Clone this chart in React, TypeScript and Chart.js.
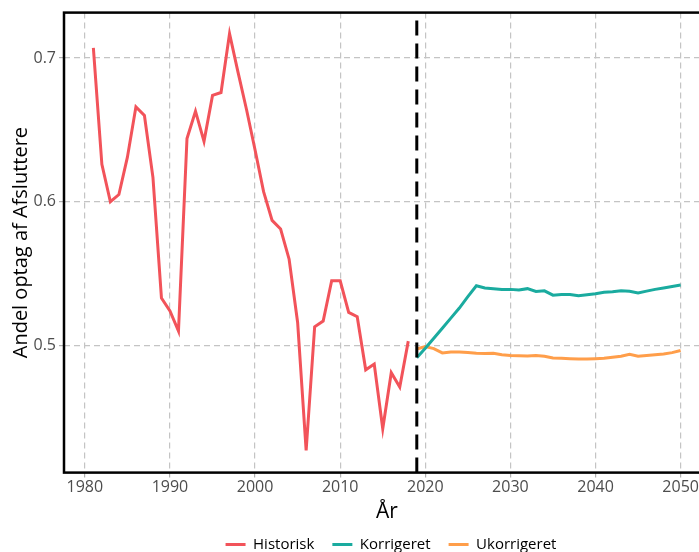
import React, { useEffect, useRef } from "react";
import { Chart, registerables } from "chart.js";

Chart.register(...registerables);

const FONT = "'Open Sans', 'Noto Sans', sans-serif";

const histYears = [
  1981, 1982, 1983, 1984, 1985, 1986, 1987, 1988, 1989, 1990,
  1991, 1992, 1993, 1994, 1995, 1996, 1997, 1998, 1999, 2000,
  2001, 2002, 2003, 2004, 2005, 2006, 2007, 2008, 2009, 2010,
  2011, 2012, 2013, 2014, 2015, 2016, 2017, 2018,
];
const historisk = [
  0.707, 0.626, 0.600, 0.605, 0.631, 0.666, 0.660, 0.617, 0.533, 0.524,
  0.510, 0.644, 0.663, 0.642, 0.674, 0.676, 0.717, 0.690, 0.664, 0.636,
  0.607, 0.587, 0.581, 0.560, 0.516, 0.427, 0.513, 0.517, 0.545, 0.545,
  0.523, 0.520, 0.483, 0.487, 0.442, 0.481, 0.471, 0.503,
];

const forecastYears = [
  2019, 2020, 2021, 2022, 2023, 2024, 2025, 2026, 2027, 2028,
  2029, 2030, 2031, 2032, 2033, 2034, 2035, 2036, 2037, 2038,
  2039, 2040, 2041, 2042, 2043, 2044, 2045, 2046, 2047, 2048,
  2049, 2050,
];
const korrigeret = [
  0.4915, 0.498, 0.505, 0.512, 0.519, 0.526, 0.534, 0.5415, 0.540, 0.5395,
  0.539, 0.539, 0.5385, 0.5395, 0.5375, 0.538, 0.535, 0.5355, 0.5355, 0.5345,
  0.5352, 0.536, 0.537, 0.5373, 0.538, 0.5377, 0.5365, 0.5378, 0.539, 0.540,
  0.541, 0.542,
];
const ukorrigeret = [
  0.4975, 0.4992, 0.4978, 0.4948, 0.4955, 0.4955, 0.495, 0.4945, 0.4943, 0.4945,
  0.4935, 0.493, 0.4928, 0.4927, 0.493, 0.4925, 0.4912, 0.491, 0.4908, 0.4905,
  0.4905, 0.4907, 0.491, 0.4918, 0.4925, 0.4938, 0.4925, 0.493, 0.4935, 0.494,
  0.495, 0.4965,
];

const seriesNames = ["Historisk", "Korrigeret", "Ukorrigeret"];
const seriesColors = ["#F2535A", "#1AAB9F", "#FF9E4A"];

const cutYear = 2019;
const xTicks = [1980, 1990, 2000, 2010, 2020, 2030, 2040, 2050];
const yTicks = [0.5, 0.6, 0.7];
const xMin = 1977.55;
const xMax = 2053.45;
const yMin = 0.4115;
const yMax = 0.7316;

const xTitle = "År";
const yTitle = "Andel optag af Afsluttere";

const toPoints = (xs: number[], ys: number[]) => xs.map((x, i) => ({ x, y: ys[i] }));

const framePlugin = {
  id: "frame",
  afterDatasetsDraw(chart: any) {
    const { ctx, chartArea } = chart;
    ctx.save();
    ctx.strokeStyle = "#000";
    ctx.lineWidth = 2.5;
    ctx.strokeRect(chartArea.left, chartArea.top, chartArea.right - chartArea.left, chartArea.bottom - chartArea.top);
    ctx.restore();
  },
};

export default function App() {
  const ref = useRef<HTMLCanvasElement | null>(null);

  useEffect(() => {
    if (!ref.current) return;
    const chart = new Chart(ref.current, {
      type: "line",
      data: {
        datasets: [
          {
            label: "",
            data: [
              { x: cutYear, y: yMin },
              { x: cutYear, y: yMax },
            ],
            borderColor: "#000",
            backgroundColor: "#000",
            borderWidth: 3,
            borderDash: [15, 8],
            pointRadius: 0,
          },
          {
            label: seriesNames[0],
            data: toPoints(histYears, historisk),
            borderColor: seriesColors[0],
            backgroundColor: seriesColors[0],
            borderWidth: 3,
            pointRadius: 0,
          },
          {
            label: seriesNames[1],
            data: toPoints(forecastYears, korrigeret),
            borderColor: seriesColors[1],
            backgroundColor: seriesColors[1],
            borderWidth: 3,
            pointRadius: 0,
          },
          {
            label: seriesNames[2],
            data: toPoints(forecastYears, ukorrigeret),
            borderColor: seriesColors[2],
            backgroundColor: seriesColors[2],
            borderWidth: 3,
            pointRadius: 0,
          },
        ],
      },
      options: {
        animation: false,
        responsive: false,
        layout: { padding: { top: 12, right: 0, left: 0, bottom: -10 } },
        plugins: {
          tooltip: { enabled: false },
          legend: {
            position: "bottom",
            labels: {
              filter: (item: any) => item.text !== "",
              usePointStyle: true,
              pointStyle: "line",
              pointStyleWidth: 20,
              color: "#000",
              font: { family: FONT, size: 15 },
              padding: 18,
            },
          },
        },
        scales: {
          x: {
            type: "linear",
            min: xMin,
            max: xMax,
            afterBuildTicks: (axis: any) => {
              axis.ticks = xTicks.map((v) => ({ value: v }));
            },
            ticks: {
              callback: (v: any) => String(v),
              color: "#4d4d4d",
              font: { family: FONT, size: 16 },
              padding: 0,
              maxRotation: 0,
              autoSkip: false,
            },
            grid: {
              color: "#c4c4c4",
              lineWidth: 1.2,
              tickLength: 5,
              tickColor: "#b0b0b0",
            },
            border: { display: false, dash: [6, 4] },
            title: {
              display: true,
              text: xTitle,
              color: "#000",
              font: { family: FONT, size: 21 },
              padding: { top: 3, bottom: -6 },
            },
          },
          y: {
            type: "linear",
            min: yMin,
            max: yMax,
            afterBuildTicks: (axis: any) => {
              axis.ticks = yTicks.map((v) => ({ value: v }));
            },
            afterFit: (axis: any) => {
              axis.width = 64;
            },
            ticks: {
              callback: (v: any) => Number(v).toFixed(1),
              color: "#4d4d4d",
              font: { family: FONT, size: 16 },
              padding: 3,
            },
            grid: {
              color: "#c4c4c4",
              lineWidth: 1.2,
              tickLength: 5,
              tickColor: "#b0b0b0",
            },
            border: { display: false, dash: [6, 4] },
            title: {
              display: true,
              text: yTitle,
              color: "#000",
              font: { family: FONT, size: 20 },
              padding: { top: 9, bottom: 0 },
            },
          },
          yRight: {
            type: "linear",
            position: "right",
            display: true,
            afterFit: (axis: any) => {
              axis.width = 72;
            },
            ticks: { display: false },
            grid: { display: false, drawTicks: false },
            border: { display: false },
          },
        },
      },
      plugins: [framePlugin],
    } as any);
    return () => chart.destroy();
  }, []);

  return (
    <div style={{ position: "absolute", left: 0, top: 0, width: 699, height: 552, overflow: "hidden" }}>
      <canvas ref={ref} width={782} height={552} style={{ display: "block" }} />
    </div>
  );
}
